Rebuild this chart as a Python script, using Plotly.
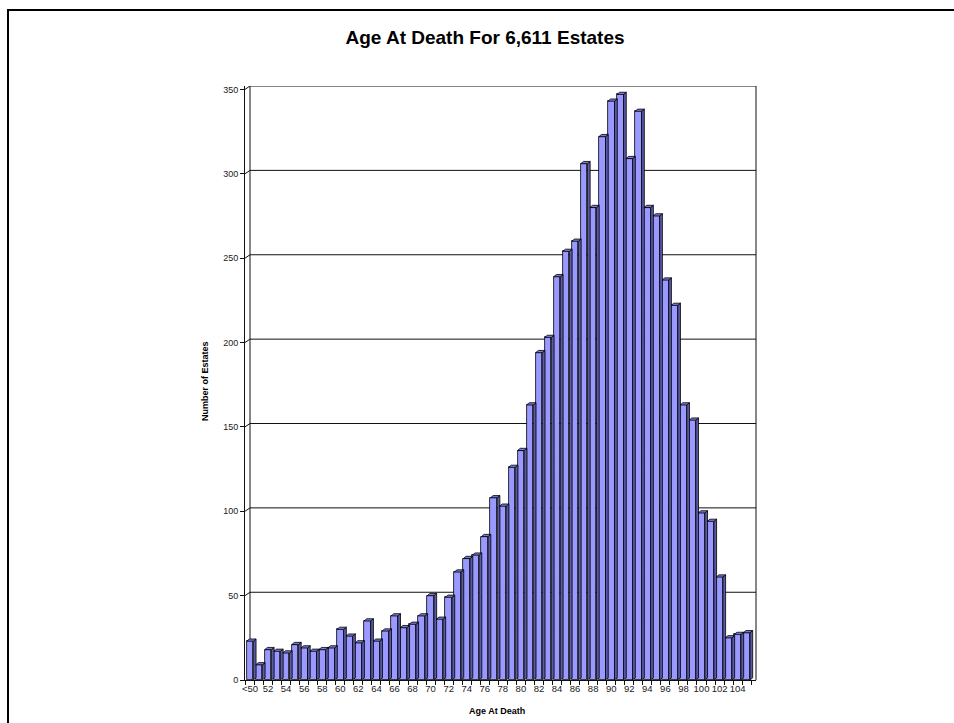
import plotly.graph_objects as go

# Age buckets and number of estates in each
ages = ["<50"] + [str(a) for a in range(51, 106)]
counts = [23, 9, 18, 17, 16, 21, 19, 17, 18, 19,
          30, 26, 22, 35, 23, 29, 38, 31, 33, 38,
          50, 36, 49, 64, 72, 74, 85, 108, 103, 126,
          136, 163, 194, 203, 239, 254, 260, 306, 280, 322,
          343, 347, 309, 337, 280, 275, 237, 222, 163, 154,
          99, 94, 61, 25, 27, 28]
y_ticks = [0, 50, 100, 150, 200, 250, 300, 350]

FONT = "Arial, Liberation Sans, sans-serif"
FRONT = "#9999FF"
SIDE = "#5A5AA8"
TOP = "#7B7BD8"

W, H = 954, 723
L, R, T, B = 245, 198, 86, 43
PX_PER_CAT = 9.03
X0 = -0.554
X1 = X0 + (W - L - R) / PX_PER_CAT
Y_TOP = 352

half = 0.37   # half width of the front face
dx = 0.30     # depth of the 3D extrusion, category units
dy = 1.3      # depth of the 3D extrusion, value units

idx = list(range(len(ages)))

# side and top faces of every bar
side_x, side_y, top_x, top_y = [], [], [], []
for i, v in zip(idx, counts):
    a, b = i - half, i + half
    side_x += [b, b, b + dx, b + dx, b, None]
    side_y += [0, v, v + dy, dy, 0, None]
    top_x += [a, b, b + dx, a + dx, a, None]
    top_y += [v, v, v + dy, v + dy, v, None]

fig = go.Figure()
fig.add_trace(go.Bar(
    x=idx, y=counts, width=2 * half,
    marker=dict(color=FRONT, line=dict(color="#000000", width=0.8)),
    hovertext=ages, hoverinfo="text+y", showlegend=False,
))
fig.add_trace(go.Scatter(
    x=side_x, y=side_y, mode="lines", fill="toself", fillcolor=SIDE,
    line=dict(color="#000000", width=0.8), hoverinfo="skip", showlegend=False,
))
fig.add_trace(go.Scatter(
    x=top_x, y=top_y, mode="lines", fill="toself", fillcolor=TOP,
    line=dict(color="#000000", width=0.8), hoverinfo="skip", showlegend=False,
))

pw, ph = W - L - R, H - T - B


def px_x(px):
    return (px - L) / pw


def px_y(py):
    return (H - B - py) / ph


shapes = []
wall_x = X0 + 5 / PX_PER_CAT
# back-wall gridlines, raised by the 3D depth
for v in y_ticks[1:]:
    shapes.append(dict(
        type="path", xref="x", yref="y", layer="below",
        path=f"M {X0},{v} L {wall_x},{v + 2} L {X1},{v + 2}",
        line=dict(color="#111111", width=1),
    ))
# inner edge of the left wall and right edge of the back wall
shapes.append(dict(type="line", xref="x", yref="y", layer="below",
                   x0=wall_x, x1=wall_x, y0=2, y1=Y_TOP,
                   line=dict(color="#111111", width=1)))
shapes.append(dict(type="line", xref="paper", yref="paper", layer="below",
                   x0=1, x1=1, y0=0, y1=1,
                   line=dict(color="#111111", width=1)))
# outer chart frame (left and top edges fall inside the page)
shapes.append(dict(type="rect", xref="paper", yref="paper", layer="above",
                   x0=px_x(8), x1=px_x(1000), y0=px_y(760), y1=px_y(10),
                   line=dict(color="#000000", width=2)))

fig.update_layout(
    width=W, height=H,
    margin=dict(l=L, r=R, t=T, b=B, pad=0),
    paper_bgcolor="#FFFFFF", plot_bgcolor="#FFFFFF",
    font=dict(family=FONT, color="#1a1a1a", size=10),
    bargap=0,
    title=dict(text="<b>Age At Death For 6,611 Estates</b>",
               x=485 / W, y=1 - 37 / H, xref="container", yref="container",
               xanchor="center", yanchor="middle",
               font=dict(family=FONT, size=19, color="#000000")),
    xaxis=dict(
        range=[X0, X1], tickmode="array",
        tickvals=idx[::2], ticktext=ages[::2], tickangle=0,
        ticks="", showgrid=False, zeroline=False,
        showline=True, linecolor="#111111", linewidth=1,
        tickfont=dict(size=9.5, color="#1a1a1a"),
        minor=dict(tick0=-0.5, dtick=1, ticks="outside", ticklen=4,
                   tickcolor="#111111", showgrid=False),
    ),
    yaxis=dict(
        range=[0, Y_TOP], tickmode="array", tickvals=y_ticks,
        ticks="outside", ticklen=4, tickcolor="#111111",
        showgrid=False, zeroline=False,
        showline=True, linecolor="#111111", linewidth=1,
        tickfont=dict(size=9, color="#1a1a1a"),
    ),
    shapes=shapes,
    annotations=[
        dict(text="<b>Number of Estates</b>", textangle=-90,
             xref="paper", yref="paper", x=px_x(205), y=px_y(381),
             xanchor="center", yanchor="middle", showarrow=False,
             font=dict(family=FONT, size=9, color="#000000")),
        dict(text="<b>Age At Death</b>",
             xref="paper", yref="paper", x=px_x(497), y=px_y(711),
             xanchor="center", yanchor="middle", showarrow=False,
             font=dict(family=FONT, size=9, color="#000000")),
    ],
)

fig.write_html("out.html")
